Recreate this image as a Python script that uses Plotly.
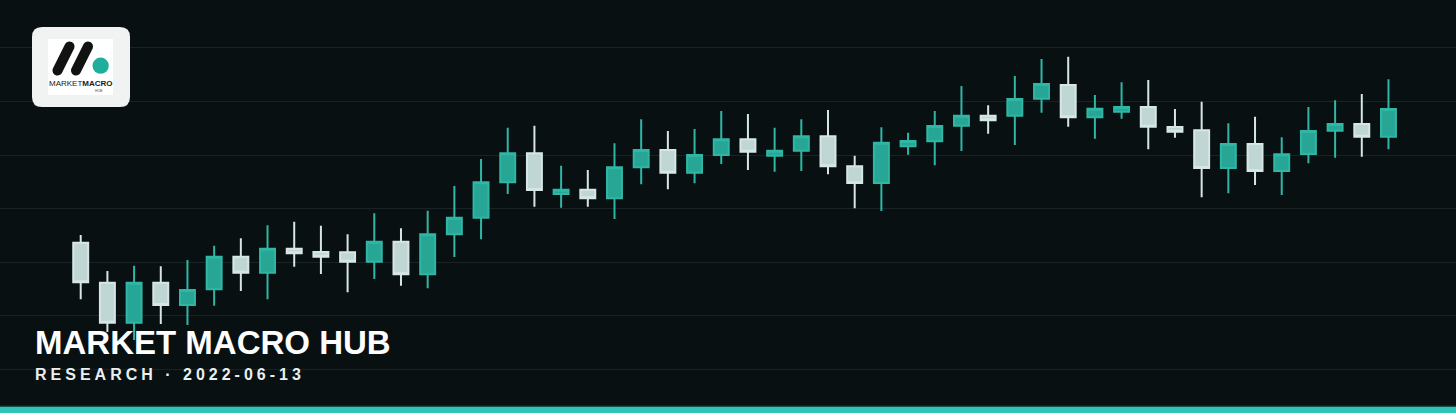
import plotly.graph_objects as go

W, H = 1456, 413

# ---- data ----
sessions = list(range(50))
opens = [113.61, 106.13, 98.65, 106.13, 101.96, 104.90, 110.99, 108.00, 112.49, 111.87,
         111.81, 110.06, 113.79, 107.70, 115.18, 118.28, 124.90, 130.32, 122.71, 123.51,
         121.91, 127.70, 130.94, 126.69, 130.00, 132.94, 129.87, 130.80, 133.50, 127.89,
         124.77, 131.63, 132.56, 135.48, 137.35, 137.35, 140.52, 143.08, 137.05, 138.09,
         138.97, 135.23, 134.62, 127.57, 132.06, 127.01, 130.19, 134.54, 135.80, 133.42]
closes = [106.21, 98.65, 106.13, 101.96, 104.77, 110.99, 108.00, 112.49, 111.63, 110.99,
          110.06, 113.79, 107.70, 115.18, 118.28, 124.90, 130.32, 123.46, 123.51, 121.91,
          127.70, 130.94, 126.69, 130.00, 132.94, 130.62, 130.80, 133.50, 127.89, 124.77,
          132.30, 132.62, 135.42, 137.35, 136.49, 140.47, 143.27, 137.05, 138.66, 138.97,
          135.29, 134.36, 127.57, 132.06, 127.01, 130.13, 134.49, 135.80, 133.42, 138.60]
highs = [115.05, 108.32, 109.31, 109.20, 110.37, 113.05, 114.43, 116.86, 117.53, 116.79,
         115.18, 119.10, 116.30, 119.59, 124.21, 129.25, 135.10, 135.48, 128.00, 127.20,
         132.19, 136.67, 134.49, 134.86, 138.23, 137.66, 135.10, 136.67, 138.41, 129.87,
         135.18, 134.17, 138.23, 142.90, 139.29, 144.77, 147.94, 148.37, 141.22, 143.59,
         144.02, 138.60, 139.96, 135.93, 137.16, 133.31, 138.97, 140.23, 141.40, 144.15]
lows = [103.03, 96.92, 95.42, 98.41, 98.22, 101.83, 104.58, 103.03, 109.12, 107.76,
        104.34, 106.82, 105.57, 105.08, 110.93, 114.24, 122.71, 120.34, 120.15, 120.34,
        118.04, 124.52, 123.59, 124.71, 128.32, 127.20, 126.88, 127.01, 126.39, 120.04,
        119.53, 130.06, 128.08, 130.75, 133.98, 131.87, 137.91, 135.29, 133.05, 136.79,
        131.07, 133.23, 122.09, 122.84, 124.39, 122.52, 128.45, 129.50, 129.68, 131.07]

title_text = "MARKET MACRO HUB"
subtitle_text = "RESEARCH · 2022-06-13"

BG = "#081012"
TEAL = "#27a696"
LIGHT = "#c0d6d5"

fig = go.Figure()
fig.add_trace(go.Candlestick(
    x=sessions, open=opens, high=highs, low=lows, close=closes,
    increasing=dict(line=dict(color="#2fb6a5", width=2), fillcolor=TEAL),
    decreasing=dict(line=dict(color="#d6e6e5", width=2), fillcolor=LIGHT),
    whiskerwidth=0, hoverinfo="skip", showlegend=False,
))


def px(x):
    return x / W


def py(y):
    return 1 - y / H


def rounded_rect(x0, y0, x1, y1, r):
    pts = [
        f"M {px(x0 + r)},{py(y0)}",
        f"L {px(x1 - r)},{py(y0)}",
        f"Q {px(x1)},{py(y0)} {px(x1)},{py(y0 + r)}",
        f"L {px(x1)},{py(y1 - r)}",
        f"Q {px(x1)},{py(y1)} {px(x1 - r)},{py(y1)}",
        f"L {px(x0 + r)},{py(y1)}",
        f"Q {px(x0)},{py(y1)} {px(x0)},{py(y1 - r)}",
        f"L {px(x0)},{py(y0 + r)}",
        f"Q {px(x0)},{py(y0)} {px(x0 + r)},{py(y0)}",
        "Z",
    ]
    return " ".join(pts)


def capsule(ax, ay, bx, by, r):
    import math
    dx, dy = bx - ax, by - ay
    L = math.hypot(dx, dy)
    dx, dy = dx / L, dy / L
    nx, ny = -dy, dx
    k = 0.5523 * r

    def P(x, y):
        return f"{px(x)},{py(y)}"
    s = [
        "M " + P(ax + nx * r, ay + ny * r),
        "L " + P(bx + nx * r, by + ny * r),
        "C " + P(bx + nx * r + dx * k, by + ny * r + dy * k) + " "
        + P(bx + dx * r + nx * k, by + dy * r + ny * k) + " " + P(bx + dx * r, by + dy * r),
        "C " + P(bx + dx * r - nx * k, by + dy * r - ny * k) + " "
        + P(bx - nx * r + dx * k, by - ny * r + dy * k) + " " + P(bx - nx * r, by - ny * r),
        "L " + P(ax - nx * r, ay - ny * r),
        "C " + P(ax - nx * r - dx * k, ay - ny * r - dy * k) + " "
        + P(ax - dx * r - nx * k, ay - dy * r - ny * k) + " " + P(ax - dx * r, ay - dy * r),
        "C " + P(ax - dx * r + nx * k, ay - dy * r + ny * k) + " "
        + P(ax + nx * r - dx * k, ay + ny * r - dy * k) + " " + P(ax + nx * r, ay + ny * r),
        "Z",
    ]
    return " ".join(s)


shapes = []
# bottom accent bar
shapes.append(dict(type="rect", xref="paper", yref="paper", x0=0, x1=1,
                   y0=py(H), y1=py(406.5), fillcolor="#2ec4b6", line=dict(width=0), layer="above"))
shapes.append(dict(type="rect", xref="paper", yref="paper", x0=0, x1=1,
                   y0=py(406.5), y1=py(405.5), fillcolor="#0f3a37", line=dict(width=0), layer="above"))
# logo tile
shapes.append(dict(type="path", xref="paper", yref="paper",
                   path=rounded_rect(32, 27, 130, 107, 10),
                   fillcolor="#f1f2f2", line=dict(width=0), layer="above"))
shapes.append(dict(type="rect", xref="paper", yref="paper",
                   x0=px(48), x1=px(113), y0=py(95), y1=py(39),
                   fillcolor="#ffffff", line=dict(width=0), layer="above"))
shapes.append(dict(type="path", xref="paper", yref="paper",
                   path=capsule(69.5, 46.5, 57.5, 70.5, 5),
                   fillcolor="#121212", line=dict(width=0), layer="above"))
shapes.append(dict(type="path", xref="paper", yref="paper",
                   path=capsule(88, 46.5, 76, 70.5, 5),
                   fillcolor="#121212", line=dict(width=0), layer="above"))
shapes.append(dict(type="circle", xref="paper", yref="paper",
                   x0=px(92.5), x1=px(108.8), y0=py(73.8), y1=py(57.5),
                   fillcolor="#1fae9b", line=dict(width=0), layer="above"))

annotations = [
    dict(text="<span style='font-weight:400'>MARKET</span><b>MACRO</b>", x=px(80.8), y=py(83.5),
         xref="paper", yref="paper", xanchor="center", yanchor="middle", showarrow=False,
         font=dict(family="Liberation Sans, Arial, sans-serif", size=8, color="#1a1a1a")),
    dict(text="HUB", x=px(99), y=py(90.7), xref="paper", yref="paper",
         xanchor="center", yanchor="middle", showarrow=False,
         font=dict(family="Liberation Sans, Arial, sans-serif", size=3.5, color="#555555")),
    dict(text="<b>" + title_text + "</b>", x=px(33), y=py(342.5), xref="paper", yref="paper",
         xanchor="left", yanchor="middle", showarrow=False,
         font=dict(family="Liberation Sans, Arial, sans-serif", size=33, color="#ffffff")),
    dict(text="<b>" + "\u2005".join(subtitle_text) + "</b>", x=px(33), y=py(374), xref="paper", yref="paper",
         xanchor="left", yanchor="middle", showarrow=False,
         font=dict(family="Liberation Sans, Arial, sans-serif", size=16, color="#e9efef")),
]

fig.update_layout(
    width=W, height=H, autosize=False,
    margin=dict(l=0, r=0, t=0, b=0, pad=0),
    paper_bgcolor=BG, plot_bgcolor=BG,
    showlegend=False,
    shapes=shapes, annotations=annotations,
    xaxis=dict(range=[-3.024, 51.53], visible=False, showgrid=False, zeroline=False,
               rangeslider=dict(visible=False), fixedrange=True),
    yaxis=dict(range=[81.78, 158.97], showgrid=True, gridcolor="#172325", gridwidth=1,
               tick0=0, dtick=10, showticklabels=False, zeroline=False, showline=False,
               ticks="", fixedrange=True),
    boxgap=0.2,
)

fig.write_html("out.html", config={"displayModeBar": False},
               post_script="document.body.style.margin='0';document.body.style.overflow='hidden';")
